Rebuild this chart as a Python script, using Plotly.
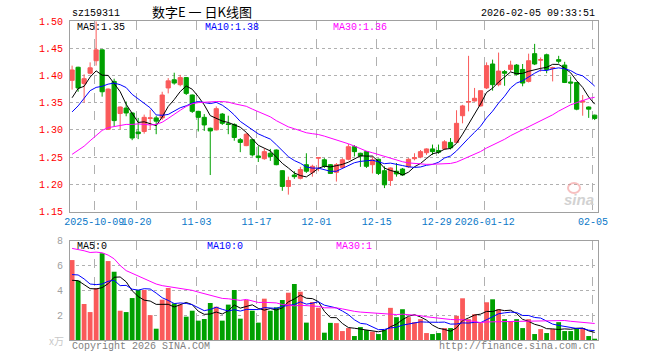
import numpy as np
import pandas as pd
import plotly.graph_objects as go

# ---------------- data ----------------
months = [("2025-09", [25, 26, 29, 30]),
          ("2025-10", [9, 10, 13, 14, 15, 16, 17, 20, 21, 22, 23, 24, 27, 28, 29, 30, 31]),
          ("2025-11", [3, 4, 5, 6, 7, 10, 11, 12, 13, 14, 17, 18, 19, 20, 21, 24, 25, 26, 27, 28]),
          ("2025-12", [1, 2, 3, 4, 5, 8, 9, 10, 11, 12, 15, 16, 17, 18, 19, 22, 23, 24, 25, 26, 29, 30, 31]),
          ("2026-01", [5, 6, 7, 8, 9, 12, 13, 14, 15, 16, 19, 20, 21, 22, 23, 26, 27, 28, 29, 30]),
          ("2026-02", [2, 3, 4, 5])]
dates = [f"{m}-{d:02d}" for m, days in months for d in days]

open_ = [1.391, 1.415, 1.385, 1.404, 1.427, 1.447, 1.301, 1.389, 1.330, 1.340,
         1.331, 1.296, 1.297, 1.321, 1.322, 1.322, 1.377, 1.392, 1.383, 1.396,
         1.364, 1.334, 1.323, 1.303, 1.300, 1.329, 1.311, 1.310, 1.282, 1.271,
         1.282, 1.252, 1.247, 1.257, 1.263, 1.225, 1.196, 1.217, 1.211, 1.236,
         1.222, 1.248, 1.245, 1.236, 1.222, 1.231, 1.246, 1.269, 1.257, 1.260,
         1.236, 1.246, 1.225, 1.207, 1.224, 1.228, 1.232, 1.247, 1.250, 1.258,
         1.265, 1.262, 1.265, 1.277, 1.277, 1.326, 1.351, 1.353, 1.344, 1.377,
         1.421, 1.383, 1.407, 1.411, 1.419, 1.411, 1.389, 1.440, 1.428, 1.438,
         1.413, 1.429, 1.419, 1.388, 1.387, 1.351, 1.342, 1.327]
high = [1.418, 1.416, 1.402, 1.424, 1.499, 1.448, 1.376, 1.394, 1.343, 1.352,
        1.332, 1.322, 1.328, 1.337, 1.326, 1.370, 1.395, 1.405, 1.401, 1.397,
        1.365, 1.335, 1.329, 1.304, 1.343, 1.331, 1.326, 1.312, 1.285, 1.294,
        1.283, 1.270, 1.266, 1.265, 1.264, 1.226, 1.214, 1.224, 1.232, 1.257,
        1.236, 1.250, 1.248, 1.237, 1.239, 1.248, 1.274, 1.272, 1.258, 1.261,
        1.251, 1.247, 1.233, 1.231, 1.239, 1.230, 1.248, 1.257, 1.263, 1.266,
        1.273, 1.273, 1.281, 1.285, 1.336, 1.346, 1.436, 1.377, 1.372, 1.424,
        1.429, 1.442, 1.410, 1.427, 1.421, 1.421, 1.440, 1.458, 1.433, 1.440,
        1.416, 1.436, 1.425, 1.398, 1.388, 1.364, 1.343, 1.328]
low = [1.374, 1.370, 1.350, 1.402, 1.418, 1.361, 1.300, 1.306, 1.301, 1.325,
       1.281, 1.283, 1.293, 1.300, 1.292, 1.318, 1.367, 1.383, 1.380, 1.364,
       1.331, 1.297, 1.298, 1.217, 1.299, 1.309, 1.292, 1.280, 1.259, 1.270,
       1.251, 1.241, 1.245, 1.243, 1.235, 1.188, 1.181, 1.210, 1.209, 1.221,
       1.214, 1.224, 1.230, 1.219, 1.205, 1.230, 1.244, 1.251, 1.232, 1.230,
       1.220, 1.217, 1.193, 1.197, 1.214, 1.216, 1.230, 1.244, 1.248, 1.254,
       1.254, 1.256, 1.263, 1.264, 1.276, 1.312, 1.334, 1.352, 1.343, 1.375,
       1.372, 1.380, 1.381, 1.407, 1.400, 1.380, 1.387, 1.419, 1.407, 1.404,
       1.389, 1.422, 1.386, 1.350, 1.336, 1.326, 1.322, 1.318]
close = [1.410, 1.377, 1.394, 1.414, 1.447, 1.370, 1.375, 1.317, 1.342, 1.331,
         1.285, 1.293, 1.323, 1.322, 1.316, 1.364, 1.390, 1.386, 1.396, 1.367,
         1.334, 1.323, 1.309, 1.298, 1.339, 1.312, 1.310, 1.286, 1.277, 1.292,
         1.254, 1.249, 1.260, 1.251, 1.236, 1.196, 1.207, 1.214, 1.227, 1.224,
         1.233, 1.249, 1.233, 1.220, 1.236, 1.245, 1.269, 1.260, 1.252, 1.233,
         1.245, 1.220, 1.199, 1.230, 1.219, 1.217, 1.246, 1.249, 1.260, 1.265,
         1.260, 1.259, 1.278, 1.267, 1.312, 1.344, 1.352, 1.358, 1.372, 1.418,
         1.383, 1.408, 1.404, 1.419, 1.402, 1.386, 1.427, 1.421, 1.429, 1.411,
         1.414, 1.426, 1.387, 1.386, 1.338, 1.353, 1.338, 1.321]
volume = [6.44, 4.78, 2.90, 2.25, 4.19, 6.98, 6.36, 5.50, 2.36, 2.25,
          3.38, 4.03, 4.03, 2.00, 0.91, 3.25, 4.19, 2.95, 2.85, 1.88,
          2.36, 1.56, 1.69, 2.98, 2.68, 1.56, 2.85, 4.03, 1.72, 3.22,
          2.36, 1.40, 3.33, 2.36, 2.63, 3.22, 3.81, 4.51, 3.89, 1.40,
          3.06, 2.60, 0.59, 1.38, 1.36, 0.72, 0.96, 0.32, 1.04, 0.80,
          0.67, 0.48, 0.80, 2.59, 1.84, 2.48, 1.84, 1.44, 1.68, 0.56,
          0.48, 0.56, 0.96, 0.96, 1.95, 3.36, 1.68, 2.08, 1.36, 3.04,
          3.28, 2.48, 1.68, 1.52, 1.68, 0.96, 1.68, 0.48, 0.88, 0.56,
          0.88, 1.44, 0.72, 0.72, 0.96, 0.96, 0.32, 0.08]

ma5_head = [1.359, 1.376, 1.380, 1.397]
ma10_head = [1.333, 1.344, 1.358, 1.372, 1.378, 1.380, 1.384, 1.386, 1.383]
ma30_head = [1.255, 1.262, 1.270, 1.280, 1.290, 1.299, 1.304, 1.306, 1.308, 1.310,
             1.310, 1.311, 1.310, 1.309, 1.310, 1.314, 1.321, 1.329, 1.336, 1.343,
             1.348, 1.350, 1.351, 1.352, 1.352, 1.352, 1.351, 1.348, 1.345]
vma5_head = [4.81, 4.78, 4.46, 4.14]
vma10_head = [5.27, 5.24, 4.92, 4.51, 4.46, 4.51, 4.73, 4.81, 4.38]
vma30_head = [7.38, 7.30, 7.19, 7.05, 7.08, 7.03, 6.84, 6.54, 6.00, 5.59,
              5.38, 5.19, 4.97, 4.73, 4.51, 4.38, 4.30, 4.24, 4.19, 4.11,
              4.00, 3.86, 3.73, 3.62, 3.51, 3.35, 3.32, 3.27, 3.19]

tick_dates = ["2025-10-09", "2025-10-20", "2025-11-03", "2025-11-17", "2025-12-01",
              "2025-12-15", "2025-12-29", "2026-01-12", "2026-02-05"]
tick_text = ["2025-10-09", "10-20", "11-03", "11-17", "12-01", "12-15", "12-29",
             "2026-01-12", "02-05"]
price_ticks = [1.15, 1.20, 1.25, 1.30, 1.35, 1.40, 1.45, 1.50]
vol_ticks = [2, 4, 6, 8]

title_code = "sz159311"
title_name = "数字E 一 日K线图"
timestamp = "2026-02-05 09:33:51"
ma_labels = ["MA5:1.35", "MA10:1.38", "MA30:1.36"]
vma_labels = ["MA5:0", "MA10:0", "MA30:1"]

# ---------------- derived ----------------
idx = np.arange(len(dates))


def moving(values, n, head):
    s = pd.Series(values).rolling(n).mean().to_numpy()
    s[:n - 1] = head
    return s


ma5 = moving(close, 5, ma5_head)
ma10 = moving(close, 10, ma10_head)
ma30 = moving(close, 30, ma30_head)
vma5 = moving(volume, 5, vma5_head)
vma10 = moving(volume, 10, vma10_head)
vma30 = moving(volume, 30, vma30_head)

RED = "#fa5a5a"
GREEN = "#00a000"
vol_colors = [RED if c >= o else GREEN for o, c in zip(open_, close)]
tick_pos = [dates.index(d) - 0.3 for d in tick_dates]

W, H = 660, 360
L, R, T, B = 70, 62, 21, 20
PW, PH = W - L - R, H - T - B


def px(x):
    return (x - L) / PW


def py(y):
    return (H - B - y) / PH


MONO = "Liberation Mono, DejaVu Sans Mono, monospace"
CJK = "Noto Sans CJK SC"

fig = go.Figure()
fig.add_trace(go.Candlestick(
    x=idx, open=open_, high=high, low=low, close=close,
    increasing=dict(line=dict(color=RED, width=1), fillcolor=RED),
    decreasing=dict(line=dict(color=GREEN, width=1), fillcolor=GREEN),
    whiskerwidth=0, xaxis="x", yaxis="y", hoverinfo="skip"))
for s, col in [(ma5, "black"), (ma10, "#0000ff"), (ma30, "#ff00ff")]:
    fig.add_trace(go.Scatter(x=idx, y=s, mode="lines", line=dict(color=col, width=1),
                             xaxis="x", yaxis="y", hoverinfo="skip"))
fig.add_trace(go.Bar(x=idx, y=volume, marker=dict(color=vol_colors, line=dict(width=0)),
                     width=0.8, xaxis="x2", yaxis="y2", hoverinfo="skip"))
for s, col in [(vma5, "black"), (vma10, "#0000ff"), (vma30, "#ff00ff")]:
    fig.add_trace(go.Scatter(x=idx, y=s, mode="lines", line=dict(color=col, width=1),
                             xaxis="x2", yaxis="y2", hoverinfo="skip"))

GRID = "#b0b0b0"
LINE = "#a0a0a0"
xr = [-0.35, len(dates) - 1 + 0.55]
main_bottom = py(211.5)
vol_top = py(240.7)

fig.update_layout(
    width=W, height=H, margin=dict(l=L, r=R, t=T, b=B, autoexpand=False),
    paper_bgcolor="white", plot_bgcolor="white", showlegend=False,
    hovermode=False, boxgap=0.3, boxgroupgap=0,
    xaxis=dict(domain=[0, 1], range=xr, anchor="y", tickmode="array",
               tickvals=tick_pos, ticktext=tick_text, tickangle=0, automargin=False,
               tickfont=dict(family=MONO, size=10, color="#0a78c8"),
               showgrid=True, gridcolor=GRID, griddash="dash", gridwidth=1,
               showline=True, mirror=True, linecolor=LINE, linewidth=1,
               zeroline=False, ticks="", rangeslider=dict(visible=False)),
    yaxis=dict(domain=[main_bottom, 1], range=[1.15, 1.50], anchor="x",
               tickmode="array", tickvals=price_ticks, automargin=False,
               ticktext=[f"{v:.2f}" for v in price_ticks],
               tickfont=dict(family=MONO, size=10, color="#ff0000"),
               showgrid=True, gridcolor=GRID, griddash="dot", gridwidth=1,
               showline=True, mirror=True, linecolor=LINE, linewidth=1,
               zeroline=False, ticks="", ticklabelstandoff=4),
    xaxis2=dict(domain=[0, 1], range=xr, anchor="y2", matches="x", automargin=False,
                tickmode="array", tickvals=tick_pos, showticklabels=False,
                showgrid=True, gridcolor=GRID, griddash="dash", gridwidth=1,
                showline=True, mirror=True, linecolor=LINE, linewidth=1,
                zeroline=False, ticks=""),
    yaxis2=dict(domain=[0, vol_top], range=[0, 8], anchor="x2", automargin=False,
                tickmode="array", tickvals=vol_ticks,
                ticktext=[str(v) for v in vol_ticks],
                tickfont=dict(family=MONO, size=10, color="#a0a0a0"),
                showgrid=True, gridcolor=GRID, griddash="dot", gridwidth=1,
                showline=True, mirror=True, linecolor=LINE, linewidth=1,
                zeroline=False, ticks="", ticklabelstandoff=4),
)

ann = []


def text(x, y, s, color="black", size=10, family=MONO, xanchor="left", **kw):
    ann.append(dict(x=px(x), y=py(y), xref="paper", yref="paper", text=s,
                    showarrow=False, xanchor=xanchor, yanchor="middle",
                    font=dict(family=family, size=size, color=color), **kw))


text(70, 13, title_code)
text(150, 12, title_name, size=13, family=CJK)
text(597, 13, timestamp, xanchor="right")
for s, x, c in zip(ma_labels, [75, 203, 331], ["black", "#0000ff", "#ff00ff"]):
    text(x, 27.5, s, color=c)
for s, x, c in zip(vma_labels, [75, 205, 334], ["black", "#0000ff", "#ff00ff"]):
    text(x, 247, s, color=c)
text(70, 346, "Copyright 2026 SINA.COM", color="#808080")
text(597, 346, "http://finance.sina.com.cn", color="#808080", xanchor="right")
text(66, 340, "x万", color="#c8c8c8", size=10, family=CJK, xanchor="right")
text(596, 199, "<b><i>sina</i></b>", color="#d2d2d2", size=15,
     family="Liberation Sans, Arial", xanchor="right")
fig.update_layout(annotations=ann)
fig.add_shape(type="circle", xref="paper", yref="paper",
              x0=px(568), x1=px(580), y0=py(193), y1=py(183),
              line=dict(color="rgba(240,140,140,0.55)", width=2))

fig.write_html("out.html", config={"displayModeBar": False},
               post_script="document.body.style.margin='0';document.body.style.padding='0';")
